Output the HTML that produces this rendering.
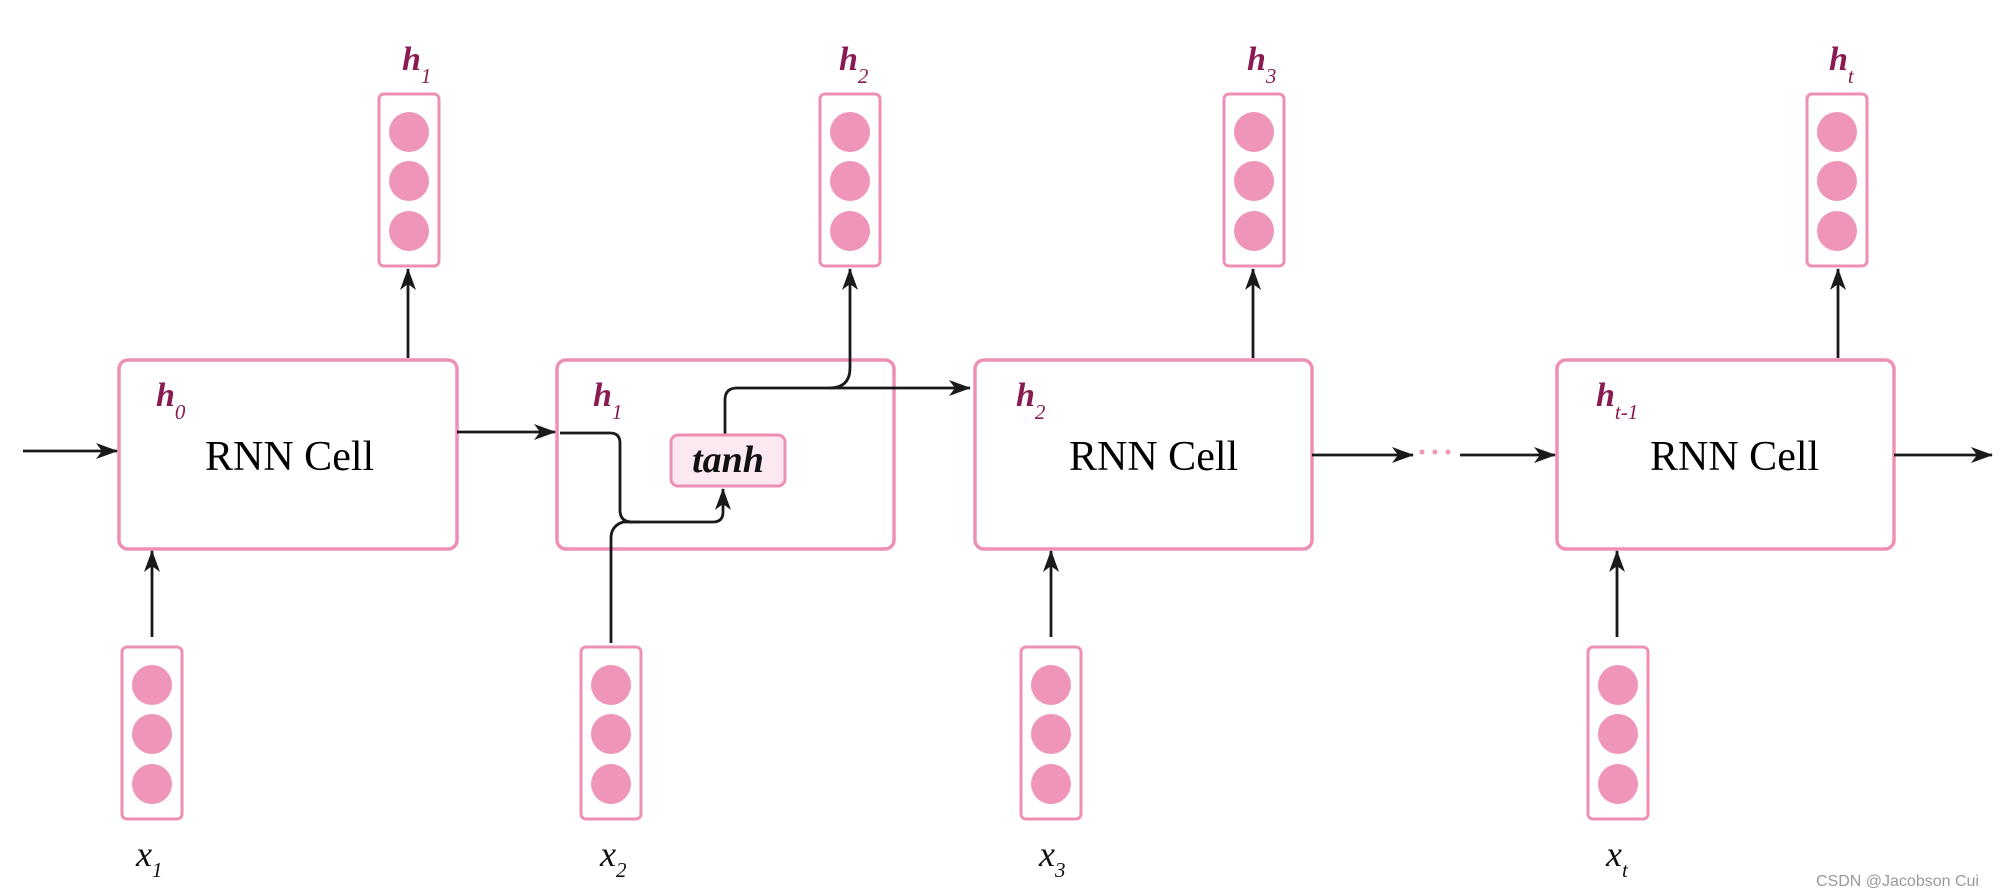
<!DOCTYPE html>
<html><head><meta charset="utf-8"><style>
html,body{margin:0;padding:0;background:#fff;}
svg{display:block;}
.lbl{font-family:"Liberation Serif",serif;font-style:italic;font-weight:bold;fill:#8a1b52;font-size:34px;}
.sub{font-size:21px;font-weight:normal;}
.xl{font-family:"Liberation Serif",serif;font-style:italic;fill:#111;font-size:36px;}
.rnn{font-family:"Liberation Serif",serif;fill:#000;font-size:42px;}
</style></head><body>
<svg width="2000" height="896" viewBox="0 0 2000 896" xmlns="http://www.w3.org/2000/svg">
<defs>
<marker id="a" viewBox="0 0 22 16" refX="21" refY="8" markerWidth="22" markerHeight="16" markerUnits="userSpaceOnUse" orient="auto">
<path d="M0,0 L22,8 L0,16 L6,8 Z" fill="#1a1a1a"/></marker>
<g id="vec">
<rect x="-30" y="0" width="60" height="172" rx="5" fill="#fff" stroke="#ee8fb5" stroke-width="3"/>
<circle cx="0" cy="38" r="20" fill="#ee95b9"/>
<circle cx="0" cy="87" r="20" fill="#ee95b9"/>
<circle cx="0" cy="137" r="20" fill="#ee95b9"/>
</g>
</defs>
<g fill="#fff" stroke="#ee8fb5" stroke-width="3.5">
<rect x="119" y="360" width="338" height="189" rx="9"/>
<rect x="557" y="360" width="337" height="189" rx="9"/>
<rect x="975" y="360" width="337" height="189" rx="9"/>
<rect x="1557" y="360" width="337" height="189" rx="9"/>
</g>
<use href="#vec" x="409" y="94"/>
<use href="#vec" x="850" y="94"/>
<use href="#vec" x="1254" y="94"/>
<use href="#vec" x="1837" y="94"/>
<use href="#vec" x="152" y="647"/>
<use href="#vec" x="611" y="647"/>
<use href="#vec" x="1051" y="647"/>
<use href="#vec" x="1618" y="647"/>
<g stroke="#1a1a1a" stroke-width="2.8" fill="none" marker-end="url(#a)">
<line x1="23" y1="451" x2="117" y2="451"/>
<line x1="457" y1="432" x2="555" y2="432"/>
<line x1="1312" y1="455" x2="1413" y2="455"/>
<line x1="1460" y1="455" x2="1555" y2="455"/>
<line x1="1894" y1="455" x2="1992" y2="455"/>
<line x1="408" y1="358" x2="408" y2="269"/>
<line x1="1253" y1="358" x2="1253" y2="269"/>
<line x1="1838" y1="358" x2="1838" y2="269"/>
<line x1="152" y1="637" x2="152" y2="551"/>
<line x1="1051" y1="637" x2="1051" y2="551"/>
<line x1="1617" y1="637" x2="1617" y2="551"/>
<path d="M560,433 L610,433 Q620,433 620,443 L620,510 Q620,522 632,522 L713,522 Q723,522 723,512 L723,489"/>
<path d="M725,435 L725,400 Q725,388 737,388 L970,388"/>
<path d="M829,388 Q850,388 850,368 L850,269"/>
</g>
<path d="M611,643 L611,538 Q611,526 623,522 L640,522" stroke="#1a1a1a" stroke-width="2.8" fill="none"/>
<g fill="#ee95b9"><circle cx="1422" cy="452" r="2.5"/><circle cx="1435" cy="452" r="2.5"/><circle cx="1448" cy="452" r="2.5"/></g>
<rect x="671" y="435" width="114" height="51" rx="7" fill="#fbe8f0" stroke="#ee8fb5" stroke-width="3"/>
<text x="728" y="472" text-anchor="middle" font-family="Liberation Serif,serif" font-style="italic" font-size="38" font-weight="bold" fill="#111">tanh</text>
<text class="rnn" x="205" y="470">RNN Cell</text>
<text class="rnn" x="1069" y="470">RNN Cell</text>
<text class="rnn" x="1650" y="470">RNN Cell</text>
<text class="lbl" x="156" y="406">h<tspan class="sub" dy="13">0</tspan></text>
<text class="lbl" x="593" y="406">h<tspan class="sub" dy="13">1</tspan></text>
<text class="lbl" x="1016" y="406">h<tspan class="sub" dy="13">2</tspan></text>
<text class="lbl" x="1596" y="406">h<tspan class="sub" dy="13">t-1</tspan></text>
<text class="lbl" x="402" y="70">h<tspan class="sub" dy="13">1</tspan></text>
<text class="lbl" x="839" y="70">h<tspan class="sub" dy="13">2</tspan></text>
<text class="lbl" x="1247" y="70">h<tspan class="sub" dy="13">3</tspan></text>
<text class="lbl" x="1829" y="70">h<tspan class="sub" dy="13">t</tspan></text>
<text class="xl" x="136" y="866">x<tspan class="sub" dy="11">1</tspan></text>
<text class="xl" x="600" y="866">x<tspan class="sub" dy="11">2</tspan></text>
<text class="xl" x="1039" y="866">x<tspan class="sub" dy="11">3</tspan></text>
<text class="xl" x="1606" y="866">x<tspan class="sub" dy="11">t</tspan></text>
<text x="1816" y="886" font-family="Liberation Sans,sans-serif" font-size="16" fill="#999">CSDN @Jacobson Cui</text>
</svg>
</body></html>
